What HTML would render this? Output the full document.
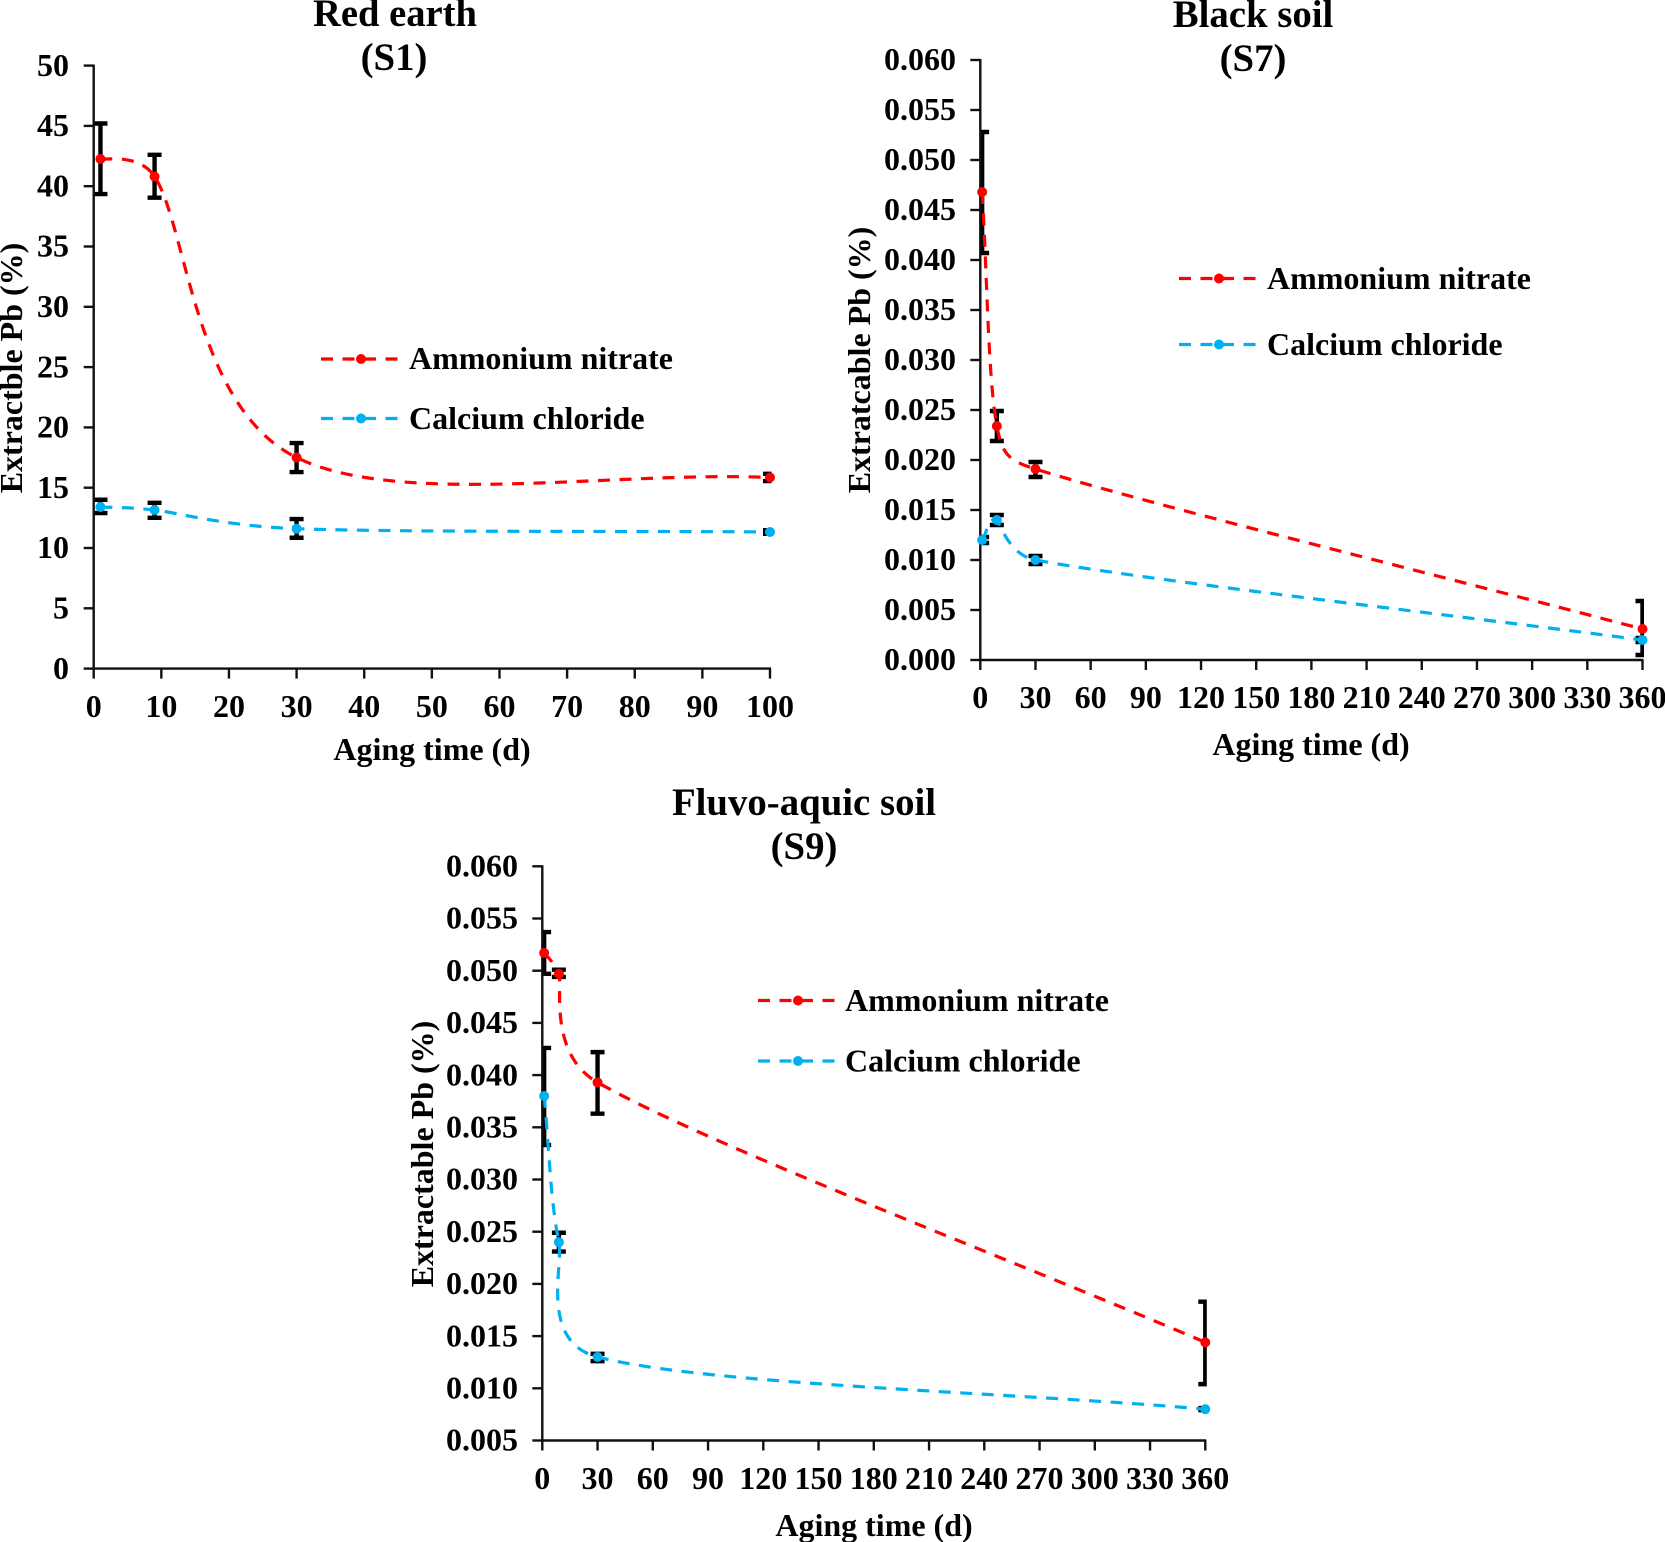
<!DOCTYPE html>
<html lang="en">
<head>
<meta charset="utf-8">
<title>Extractable Pb versus aging time</title>
<style>
html,body{margin:0;padding:0;background:#fff;width:1665px;height:1542px;overflow:hidden}
svg{display:block}
text{font-family:"Liberation Serif","DejaVu Serif",serif;font-weight:bold;fill:#000}
.title{font-size:38.8px;text-anchor:middle}
.axis-title{font-size:32px;text-anchor:middle}
.legend-label{font-size:32px}
.tick-label{font-size:32px}
</style>
</head>
<body>
<svg id="figure" xmlns="http://www.w3.org/2000/svg" width="1665" height="1542" viewBox="0 0 1665 1542">
  <rect width="1665" height="1542" fill="#fff"/>

  <g id="chart-s1">
    <text class="title" x="395" y="26" textLength="164" lengthAdjust="spacingAndGlyphs">Red earth</text>
    <text class="title" x="394" y="70">(S1)</text>
    <text class="axis-title" x="432" y="760">Aging time (d)</text>
    <text class="axis-title" transform="translate(22 368) rotate(-90)">Extractble Pb (%)</text>
    <g>
      <line x1="321" y1="359" x2="400" y2="359" stroke="#ff0000" stroke-width="3.2" stroke-dasharray="12 9.5"/>
      <circle cx="361" cy="359" r="5" fill="#ff0000"/>
      <text class="legend-label" x="409" y="369">Ammonium nitrate</text>
      <line x1="321" y1="418.5" x2="400" y2="418.5" stroke="#00b0f0" stroke-width="3.2" stroke-dasharray="12 9.5"/>
      <circle cx="361" cy="418.5" r="5" fill="#00b0f0"/>
      <text class="legend-label" x="409" y="429">Calcium chloride</text>
    </g>
  </g>

  <g id="chart-s7">
    <text class="title" x="1253" y="27">Black soil</text>
    <text class="title" x="1253" y="71">(S7)</text>
    <text class="axis-title" x="1311" y="755">Aging time (d)</text>
    <text class="axis-title" transform="translate(870 360) rotate(-90)">Extratcable Pb (%)</text>
    <g>
      <line x1="1179" y1="278.5" x2="1258" y2="278.5" stroke="#ff0000" stroke-width="3.2" stroke-dasharray="12 9.5"/>
      <circle cx="1219" cy="278.5" r="5" fill="#ff0000"/>
      <text class="legend-label" x="1267" y="289">Ammonium nitrate</text>
      <line x1="1179" y1="344.5" x2="1258" y2="344.5" stroke="#00b0f0" stroke-width="3.2" stroke-dasharray="12 9.5"/>
      <circle cx="1219" cy="344.5" r="5" fill="#00b0f0"/>
      <text class="legend-label" x="1267" y="355">Calcium chloride</text>
    </g>
  </g>

  <g id="chart-s9">
    <text class="title" x="804" y="815">Fluvo-aquic soil</text>
    <text class="title" x="804" y="859">(S9)</text>
    <text class="axis-title" x="874" y="1536">Aging time (d)</text>
    <text class="axis-title" transform="translate(433 1154) rotate(-90)">Extractable Pb (%)</text>
    <g>
      <line x1="758" y1="1000.5" x2="837" y2="1000.5" stroke="#ff0000" stroke-width="3.2" stroke-dasharray="12 9.5"/>
      <circle cx="798" cy="1000.5" r="5" fill="#ff0000"/>
      <text class="legend-label" x="845" y="1011">Ammonium nitrate</text>
      <line x1="758" y1="1061" x2="837" y2="1061" stroke="#00b0f0" stroke-width="3.2" stroke-dasharray="12 9.5"/>
      <circle cx="798" cy="1061" r="5" fill="#00b0f0"/>
      <text class="legend-label" x="845" y="1071.5">Calcium chloride</text>
    </g>
  </g>
</svg>

<script>
// ---- Red earth (S1) ----
const s1Days = [1, 9, 30, 100];
const s1Ammonium = [42.26, 40.8, 17.5, 15.85];
const s1AmmoniumHigh = [45.2, 42.6, 18.7, 16.15];
const s1AmmoniumLow = [39.35, 39.05, 16.3, 15.55];
const s1Calcium = [13.4, 13.15, 11.6, 11.33];
const s1CalciumHigh = [14.0, 13.75, 12.4, 11.48];
const s1CalciumLow = [12.9, 12.5, 10.85, 11.18];
const s1XTicks = ['0', '10', '20', '30', '40', '50', '60', '70', '80', '90', '100'];
const s1YTicks = ['0', '5', '10', '15', '20', '25', '30', '35', '40', '45', '50'];

// ---- Black soil (S7) ----
const s7Days = [1, 9, 30, 360];
const s7Ammonium = [0.0468, 0.0234, 0.0191, 0.0031];
const s7AmmoniumHigh = [0.0528, 0.0249, 0.0198, 0.0059];
const s7AmmoniumLow = [0.0407, 0.0219, 0.0183, 0.0005];
const s7Calcium = [0.012, 0.014, 0.01, 0.002];
const s7CalciumHigh = [0.0123, 0.0145, 0.0104, 0.0022];
const s7CalciumLow = [0.0117, 0.0135, 0.0096, 0.0018];
const s7XTicks = ['0', '30', '60', '90', '120', '150', '180', '210', '240', '270', '300', '330', '360'];
const s7YTicks = ['0.000', '0.005', '0.010', '0.015', '0.020', '0.025', '0.030', '0.035', '0.040', '0.045', '0.050', '0.055', '0.060'];

// ---- Fluvo-aquic soil (S9) ----
const s9Days = [1, 9, 30, 360];
const s9Ammonium = [0.0517, 0.0497, 0.0393, 0.0144];
const s9AmmoniumHigh = [0.0537, 0.0501, 0.0422, 0.0183];
const s9AmmoniumLow = [0.0497, 0.0494, 0.0363, 0.0104];
const s9Calcium = [0.038, 0.024, 0.013, 0.008];
const s9CalciumHigh = [0.0426, 0.0249, 0.0133, 0.0081];
const s9CalciumLow = [0.0333, 0.0231, 0.0126, 0.0079];
const s9XTicks = ['0', '30', '60', '90', '120', '150', '180', '210', '240', '270', '300', '330', '360'];
const s9YTicks = ['0.005', '0.010', '0.015', '0.020', '0.025', '0.030', '0.035', '0.040', '0.045', '0.050', '0.055', '0.060'];

const SVG_NS = 'http://www.w3.org/2000/svg';
const RED = '#ff0000';
const BLUE = '#00b0f0';

function make(tag, parent, attrs) {
  const el = document.createElementNS(SVG_NS, tag);
  for (const k in attrs) el.setAttribute(k, attrs[k]);
  parent.appendChild(el);
  return el;
}

// Excel-style smoothed line through pixel points
function smoothPath(pts) {
  const dist = (a, b) => Math.hypot(a[0] - b[0], a[1] - b[1]);
  let d = 'M' + pts[0][0] + ' ' + pts[0][1];
  const n = pts.length;
  for (let i = 0; i < n - 1; i++) {
    const p1 = pts[i], p2 = pts[i + 1];
    const p0 = i > 0 ? pts[i - 1] : p1;
    const p3 = i < n - 2 ? pts[i + 2] : p2;
    const d02 = dist(p0, p2), d12 = dist(p1, p2), d13 = dist(p1, p3);
    let f, g;
    if (d02 / 6 < d12 / 2 && d13 / 6 < d12 / 2) {
      f = i !== 0 ? 1 / 6 : 1 / 3;
      g = i !== n - 2 ? 1 / 6 : 1 / 3;
    } else if (d02 / 6 >= d12 / 2 && d13 / 6 >= d12 / 2) {
      f = d12 / 2 / d02;
      g = d12 / 2 / d13;
    } else if (d02 / 6 >= d12 / 2) {
      f = d12 / 2 / d02;
      g = d12 / 2 / d13 * (d13 / d02);
    } else {
      f = d12 / 2 / d02 * (d02 / d13);
      g = d12 / 2 / d13;
    }
    const c1 = [p1[0] + (p2[0] - p0[0]) * f, p1[1] + (p2[1] - p0[1]) * f];
    const c2 = [p2[0] - (p3[0] - p1[0]) * g, p2[1] - (p3[1] - p1[1]) * g];
    d += ' C' + c1[0].toFixed(2) + ' ' + c1[1].toFixed(2) + ' ' + c2[0].toFixed(2) + ' ' + c2[1].toFixed(2) + ' ' + p2[0].toFixed(2) + ' ' + p2[1].toFixed(2);
  }
  return d;
}

function drawChart(id, box, days, series, xTicks, yTicks) {
  const root = document.getElementById(id);
  const xVals = xTicks.map(Number), yVals = yTicks.map(Number);
  const xMin = xVals[0], xMax = xVals[xVals.length - 1];
  const yMin = yVals[0], yMax = yVals[yVals.length - 1];
  const xScale = v => box.left + (v - xMin) / (xMax - xMin) * (box.right - box.left);
  const yScale = v => box.bottom - (v - yMin) / (yMax - yMin) * (box.bottom - box.top);

  const defs = make('defs', root, {});
  const clip = make('clipPath', defs, { id: id + '-clip' });
  make('rect', clip, { x: box.left, y: box.top - 30, width: box.right - box.left + 1.5, height: box.bottom - box.top + 60 });

  // error bars, clipped to the plot area
  const errGroup = make('g', root, { 'clip-path': 'url(#' + id + '-clip)' });
  
  
  series.forEach(s => {
    days.forEach((day, i) => {
      const x = xScale(day), hi = yScale(s.high[i]), lo = yScale(s.low[i]);
      const bar = make('path', errGroup, {
        d: 'M' + x + ' ' + hi + 'V' + lo + 'M' + (x - 7) + ' ' + hi + 'H' + (x + 7) + 'M' + (x - 7) + ' ' + lo + 'H' + (x + 7),
        fill: 'none', stroke: '#000', 'stroke-width': 4.4
      });
      
      
    });
  });

  // axes
  const axisGroup = make('g', root, { stroke: '#111', 'stroke-width': 2.4, fill: 'none' });
  
  
  const yAxis = make('line', axisGroup, { x1: box.left, x2: box.left, y1: box.top - 1, y2: box.bottom + 1 });
  
  
  const xAxis = make('line', axisGroup, { x1: box.left - 1, x2: box.right + 1, y1: box.bottom, y2: box.bottom });
  
  

  yTicks.forEach((label, i) => {
    const y = yScale(yVals[i]);
    const tick = make('line', axisGroup, { x1: box.left - 10, x2: box.left, y1: y, y2: y });
    
    
    const t = make('text', root, { class: 'tick-label', x: box.yLabelRight, y: y + 10.2, 'text-anchor': 'end' });
    
    
    t.textContent = label;
  });
  xTicks.forEach((label, i) => {
    const x = xScale(xVals[i]);
    const tick = make('line', axisGroup, { x1: x, x2: x, y1: box.bottom, y2: box.bottom + 10 });
    
    
    const t = make('text', root, { class: 'tick-label', x: x, y: box.xLabelBase, 'text-anchor': 'middle' });
    
    
    t.textContent = label;
  });

  // series
  series.forEach(s => {
    const pts = days.map((day, i) => [xScale(day), yScale(s.values[i])]);
    const line = make('path', root, {
      d: smoothPath(pts), fill: 'none', stroke: s.color, 'stroke-width': 3.2, 'stroke-dasharray': '12 9.5'
    });
    
    
    pts.forEach(p => {
      const dot = make('circle', root, { cx: p[0], cy: p[1], r: 5, fill: s.color });
      
      
    });
  });
}

drawChart('chart-s1',
  { left: 93.7, right: 770, top: 65.6, bottom: 668.6, yLabelRight: 69, xLabelBase: 717 },
  s1Days,
  [
    { key: 's1-ammonium-nitrate', color: RED, values: s1Ammonium, high: s1AmmoniumHigh, low: s1AmmoniumLow },
    { key: 's1-calcium-chloride', color: BLUE, values: s1Calcium, high: s1CalciumHigh, low: s1CalciumLow }
  ],
  s1XTicks, s1YTicks);

drawChart('chart-s7',
  { left: 980.3, right: 1642.5, top: 60, bottom: 660, yLabelRight: 956, xLabelBase: 708 },
  s7Days,
  [
    { key: 's7-ammonium-nitrate', color: RED, values: s7Ammonium, high: s7AmmoniumHigh, low: s7AmmoniumLow },
    { key: 's7-calcium-chloride', color: BLUE, values: s7Calcium, high: s7CalciumHigh, low: s7CalciumLow }
  ],
  s7XTicks, s7YTicks);

drawChart('chart-s9',
  { left: 542.3, right: 1205.3, top: 866.3, bottom: 1440.5, yLabelRight: 518, xLabelBase: 1489 },
  s9Days,
  [
    { key: 's9-ammonium-nitrate', color: RED, values: s9Ammonium, high: s9AmmoniumHigh, low: s9AmmoniumLow },
    { key: 's9-calcium-chloride', color: BLUE, values: s9Calcium, high: s9CalciumHigh, low: s9CalciumLow }
  ],
  s9XTicks, s9YTicks);
</script>
</body>
</html>
